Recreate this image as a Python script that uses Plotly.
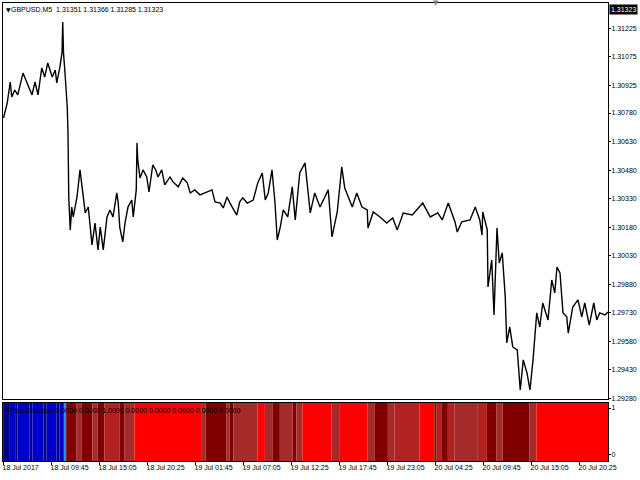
import plotly.graph_objects as go
import pandas as pd

# ---------------- data ----------------
symbol_header = "GBPUSD,M5  1.31351 1.31366 1.31285 1.31323"
last_price = 1.31323
start_time = "2017-07-18 04:25"
bar_minutes = 5
last_bar = 806

price_bar = [0, 5, 9, 11, 15, 19, 26, 31, 38, 42, 46, 51, 55, 59, 65, 69, 71, 75, 78, 79,
             80, 82, 85, 86, 87, 89, 91, 93, 98, 102, 105, 109, 113, 118, 122, 126, 129, 133, 138, 142,
             146, 151, 153, 155, 159, 162, 166, 171, 173, 177, 178, 179, 182, 186, 191, 194, 199, 203, 206, 211,
             215, 222, 226, 233, 239, 245, 249, 255, 262, 271, 278, 282, 289, 293, 298, 302, 306, 311, 315, 319,
             325, 329, 333, 339, 345, 349, 353, 358, 362, 365, 369, 373, 379, 385, 389, 395, 402, 409, 415, 422,
             433, 438, 445, 451, 455, 465, 471, 478, 485, 486, 493, 502, 511, 519, 525, 533, 545, 559, 569, 579,
             585, 593, 602, 605, 611, 622, 629, 635, 638, 639, 645, 646, 651, 654, 658, 661, 665, 669, 671, 675,
             679, 685, 689, 693, 698, 702, 706, 711, 715, 719, 726, 731, 735, 738, 742, 746, 751, 753, 759, 766,
             771, 775, 781, 787, 791, 795, 802, 806]
price_close = [1.30754, 1.30833, 1.30943, 1.30864, 1.30901, 1.30875, 1.30990, 1.30943, 1.30875, 1.30943,
               1.30875, 1.31017, 1.30969, 1.31043, 1.30969, 1.31006, 1.30938, 1.31017, 1.31096, 1.31258,
               1.31096, 1.30990, 1.30812, 1.30675, 1.30339, 1.30166, 1.30286, 1.30234, 1.30339, 1.30481,
               1.30376, 1.30255, 1.30286, 1.30087, 1.30202, 1.30061, 1.30181, 1.30061, 1.30234, 1.30271,
               1.30234, 1.30360, 1.30307, 1.30181, 1.30103, 1.30202, 1.30286, 1.30323, 1.30234, 1.30376,
               1.30623, 1.30533, 1.30439, 1.30481, 1.30444, 1.30365, 1.30507, 1.30481, 1.30444, 1.30481,
               1.30402, 1.30444, 1.30418, 1.30392, 1.30439, 1.30413, 1.30360, 1.30376, 1.30350, 1.30365,
               1.30376, 1.30313, 1.30307, 1.30281, 1.30339, 1.30307, 1.30281, 1.30244, 1.30313, 1.30334,
               1.30307, 1.30313, 1.30323, 1.30413, 1.30465, 1.30323, 1.30360, 1.30481, 1.30307, 1.30113,
               1.30181, 1.30271, 1.30234, 1.30392, 1.30218, 1.30465, 1.30518, 1.30255, 1.30360, 1.30286,
               1.30376, 1.30129, 1.30260, 1.30497, 1.30386, 1.30286, 1.30360, 1.30286, 1.30271, 1.30176,
               1.30260, 1.30234, 1.30202, 1.30229, 1.30166, 1.30255, 1.30244, 1.30307, 1.30234, 1.30255,
               1.30218, 1.30307, 1.30208, 1.30155, 1.30208, 1.30218, 1.30286, 1.30218, 1.30139, 1.30260,
               1.30166, 1.29866, 1.30008, 1.29719, 1.30176, 1.29992, 1.30045, 1.29814, 1.29572, 1.29656,
               1.29551, 1.29535, 1.29325, 1.29483, 1.29414, 1.29325, 1.29483, 1.29730, 1.29656, 1.29782,
               1.29693, 1.29903, 1.29835, 1.29971, 1.29940, 1.29730, 1.29709, 1.29624, 1.29761, 1.29798,
               1.29709, 1.29782, 1.29666, 1.29782, 1.29693, 1.29730, 1.29719, 1.29735]

time_tick_bar = [0, 64, 128, 192, 256, 320, 384, 448, 512, 576, 640, 704, 768]
time_tick_text = ["18 Jul 2017", "18 Jul 09:45", "18 Jul 15:05", "18 Jul 20:25", "19 Jul 01:45",
                  "19 Jul 07:05", "19 Jul 12:25", "19 Jul 17:45", "19 Jul 23:05", "20 Jul 04:25",
                  "20 Jul 09:45", "20 Jul 15:05", "20 Jul 20:25"]
price_ticks = [1.31225, 1.31075, 1.30925, 1.30780, 1.30630, 1.30480, 1.30330, 1.30180,
               1.30030, 1.29880, 1.29730, 1.29580, 1.29430, 1.29280]
ind_ticks = [0, 1]

ind_label = "Price Direction 0.0000 0.0000 1.0000 0.0000 0.0000 0.0000 0.0000 0.0000"
seg_start_bar = [0, 9, 17, 19, 35, 39, 54, 58, 71, 75, 81, 84, 98, 105, 119, 126, 135, 155, 162, 175,
                 265, 270, 298, 302, 307, 339, 349, 359, 369, 386, 391, 399, 438, 449, 486, 495, 513, 522,
                 555, 575, 578, 585, 593, 602, 633, 645, 658, 666, 702, 711]
seg_state = ["navy", "blue", "navy", "blue", "navy", "blue", "navy", "blue", "navy", "blue",
             "lightblue", "maroon", "brown", "maroon", "brown", "maroon", "firebrick", "maroon", "brown", "red",
             "brown", "maroon", "brown", "maroon", "brown", "red", "brown", "maroon", "brown", "maroon",
             "brown", "red", "brown", "red", "brown", "maroon", "brown", "firebrick",
             "red", "maroon", "firebrick", "maroon", "firebrick", "brown", "firebrick", "maroon", "brown", "maroon",
             "brown", "red"]

# ---------------- styles ----------------
state_color = {"navy": "#00008B", "blue": "#0000CD", "lightblue": "#1E90FF",
               "maroon": "#800000", "brown": "#A52A2A", "firebrick": "#B22222", "red": "#FF0000"}
FONT = "Liberation Sans, Arial, sans-serif"
FS = 7

t0 = pd.Timestamp(start_time)


def bt(b):
    return t0 + pd.Timedelta(minutes=bar_minutes * b)


xs = [bt(b) for b in price_bar]
x_range = [bt(-0.67), bt(last_bar)]

fig = go.Figure()
fig.add_trace(go.Scatter(x=xs, y=price_close, mode="lines",
                         line=dict(color="#000000", width=1.4),
                         xaxis="x", yaxis="y", hoverinfo="skip", showlegend=False))
fig.add_trace(go.Scatter(x=[bt(0)], y=[0], mode="markers", marker=dict(opacity=0),
                         xaxis="x2", yaxis="y2", hoverinfo="skip", showlegend=False))

shapes = []
for i, (b, s) in enumerate(zip(seg_start_bar, seg_state)):
    b1 = seg_start_bar[i + 1] if i + 1 < len(seg_start_bar) else last_bar + 1
    shapes.append(dict(type="rect", xref="x2", yref="y2 domain",
                       x0=bt(b - 0.5), x1=bt(b1 - 0.5), y0=0, y1=1,
                       fillcolor=state_color[s], line=dict(width=0), layer="below"))

axis_common = dict(showgrid=False, zeroline=False, showline=True, mirror=True,
                   linecolor="#000000", linewidth=1, automargin=False,
                   tickfont=dict(family=FONT, size=FS, color="#000000"))

fig.update_layout(
    width=640, height=480,
    margin=dict(l=3, r=32, t=3, b=19),
    paper_bgcolor="#FFFFFF", plot_bgcolor="#FFFFFF",
    showlegend=False,
    shapes=shapes,
    xaxis=dict(domain=[0, 1], range=x_range, type="date", anchor="y",
               showticklabels=False, ticks="", **axis_common),
    xaxis2=dict(domain=[0, 1], range=x_range, type="date", anchor="y2", matches="x",
                tickvals=[bt(b) for b in time_tick_bar], ticktext=time_tick_text,
                ticks="outside", ticklen=3, tickcolor="#000000",
                ticklabelposition="outside right", ticklabelshift=-2,
                **axis_common),
    yaxis=dict(domain=[0.1343, 1], range=[1.29275, 1.31358], side="right", anchor="x",
               tickvals=price_ticks, ticktext=[f"{v:.5f}" for v in price_ticks],
               ticks="outside", ticklen=2, tickcolor="#000000", ticklabelstandoff=-1,
               **axis_common),
    yaxis2=dict(domain=[0, 0.1273], range=[-0.128, 1.113], side="right", anchor="x2",
                tickvals=ind_ticks, ticktext=[str(v) for v in ind_ticks],
                ticks="outside", ticklen=2, tickcolor="#000000", ticklabelstandoff=-1,
                **axis_common),
)

annotations = [
    dict(xref="paper", yref="paper", x=0, y=1, xanchor="left", yanchor="top",
         xshift=1, yshift=-1, text="▼", showarrow=False,
         font=dict(family="DejaVu Sans", size=6, color="#000000")),
    dict(xref="paper", yref="paper", x=0, y=1, xanchor="left", yanchor="top",
         xshift=6, yshift=-1, text=symbol_header, showarrow=False,
         font=dict(family=FONT, size=FS, color="#000000")),
    dict(xref="paper", yref="paper", x=0.716, y=1, xanchor="center", yanchor="middle",
         yshift=0, text="▼", showarrow=False,
         font=dict(family="DejaVu Sans", size=7, color="#808080")),
    dict(xref="paper", yref="y", x=1, y=last_price, xanchor="left", yanchor="middle",
         xshift=1, text=f"{last_price:.5f}", showarrow=False, bgcolor="#000000",
         borderpad=1, font=dict(family=FONT, size=FS, color="#FFFFFF")),
    dict(xref="paper", yref="y2 domain", x=0, y=1, xanchor="left", yanchor="top",
         xshift=3, yshift=-2, text=ind_label, showarrow=False,
         font=dict(family=FONT, size=FS, color="#000000")),
]
fig.update_layout(annotations=annotations)

fig.write_html("out.html", config={"displayModeBar": False},
               post_script="document.body.style.margin='0';document.body.style.padding='0';")
